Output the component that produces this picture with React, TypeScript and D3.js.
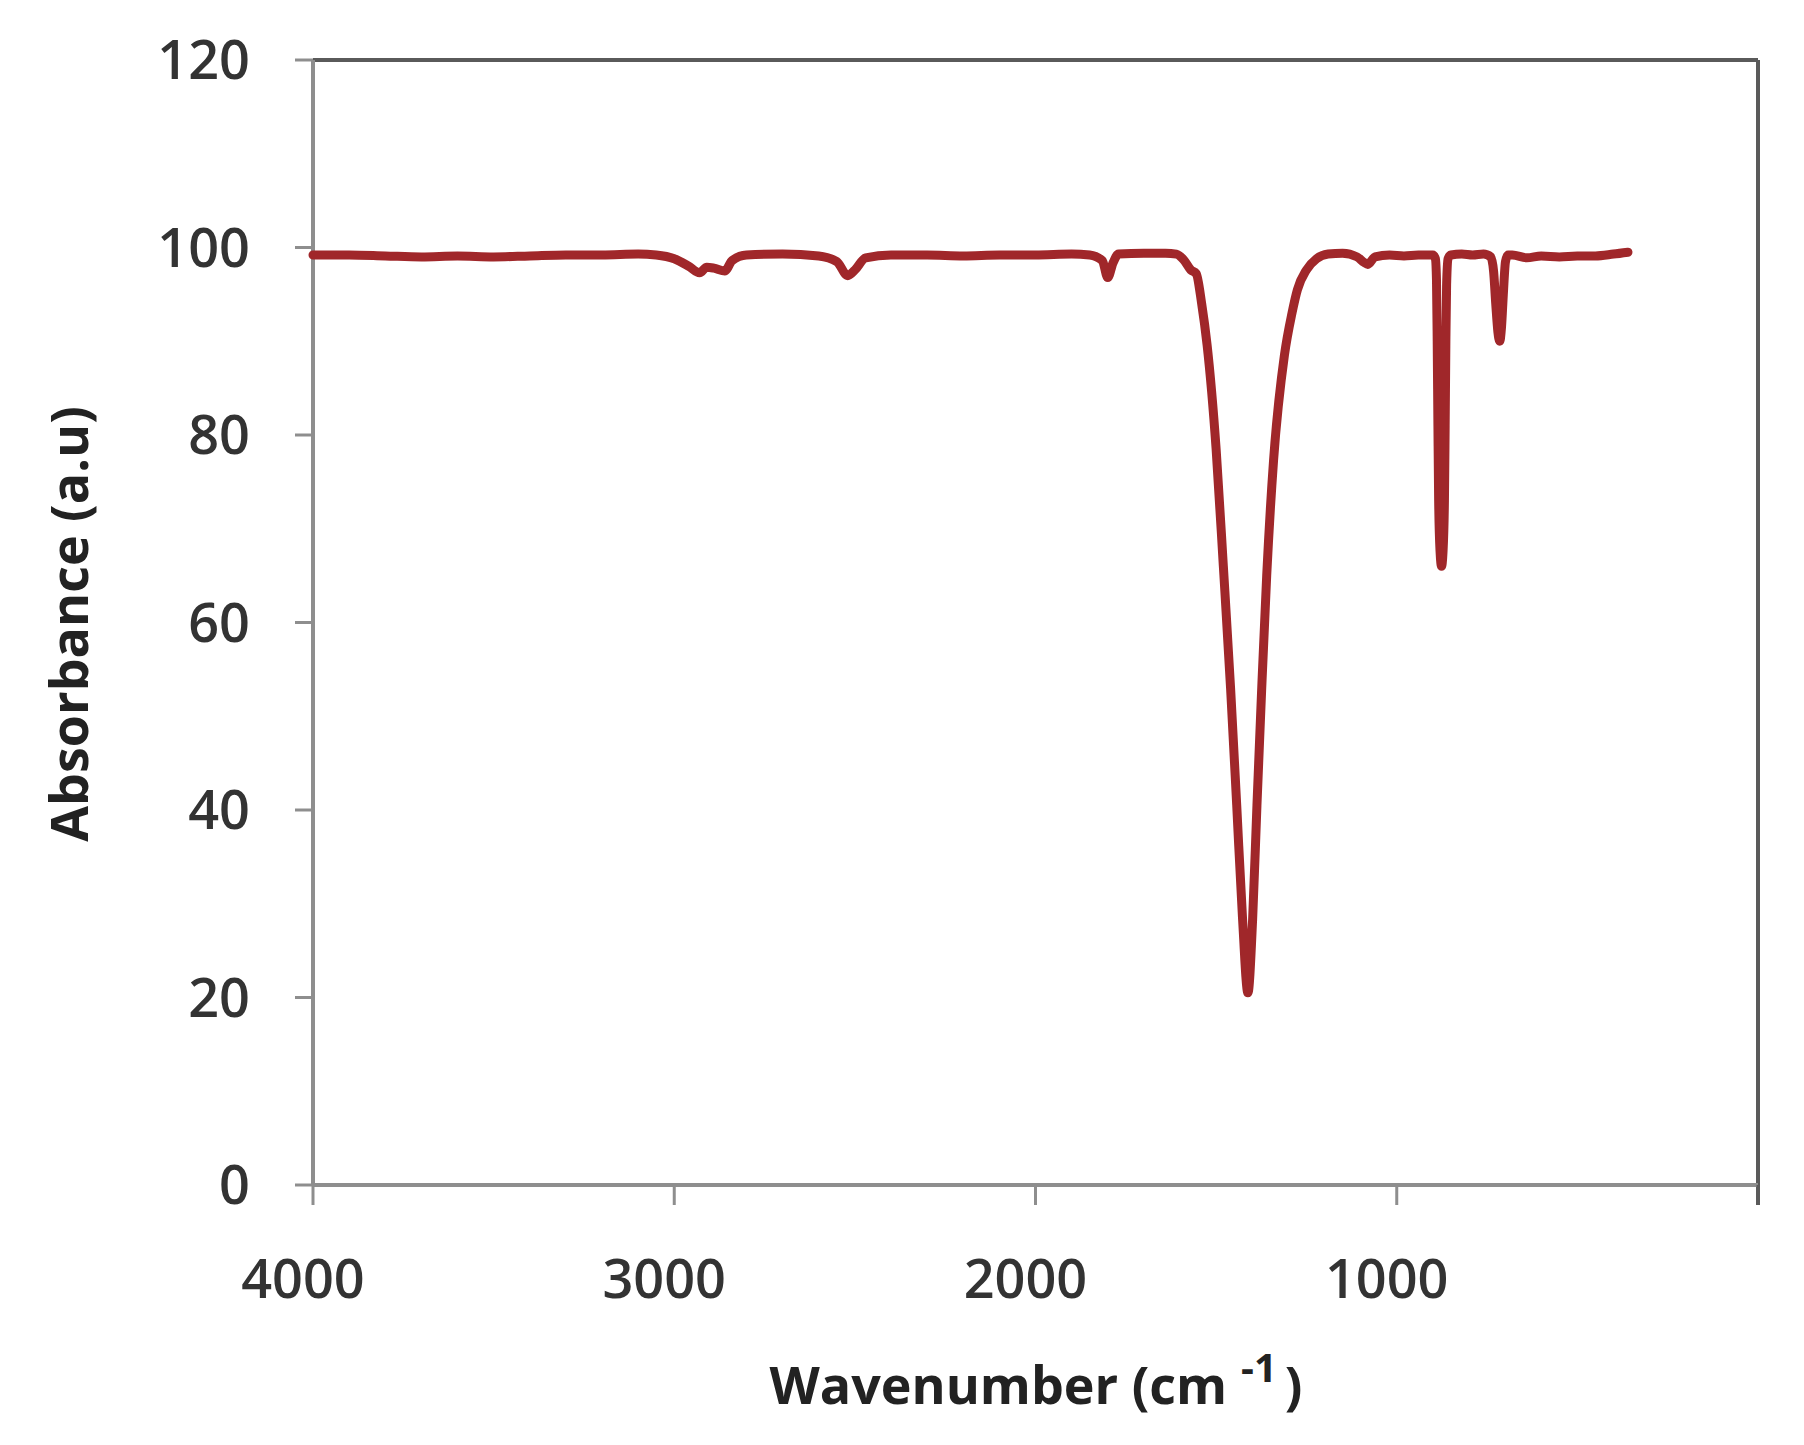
import React from "react";
import * as d3 from "d3";

const wavenumbers = [
  4000, 3900, 3800, 3700, 3600, 3500, 3400, 3300, 3200, 3100, 3050, 3000, 2960, 2930, 2910, 2890, 2860, 2840, 2800,
  2700, 2600, 2550, 2520, 2500, 2470, 2400, 2300, 2200, 2100, 2000, 1900, 1850, 1815, 1800, 1785, 1770, 1700, 1640,
  1610, 1590, 1570, 1555, 1540, 1525, 1500, 1480, 1460, 1443, 1427, 1412, 1399, 1387, 1374, 1360, 1341, 1311, 1290,
  1275, 1250, 1222, 1190, 1150, 1110, 1090, 1080, 1060, 1020, 980, 940, 900, 893, 890, 888, 886, 884, 880, 876, 872,
  868, 866, 864, 862, 858, 850, 820, 790, 760, 740, 732, 726, 720, 715, 710, 705, 699, 692, 680, 640, 600, 550, 500,
  450, 400, 360,
];

const absorbance = [
  99.2, 99.2, 99.1, 99.0, 99.1, 99.0, 99.1, 99.2, 99.2, 99.3, 99.2, 98.8, 98.0, 97.3, 97.9, 97.8, 97.5, 98.6, 99.2,
  99.3, 99.1, 98.5, 97.0, 97.6, 98.9, 99.2, 99.2, 99.1, 99.2, 99.2, 99.3, 99.2, 98.6, 96.8, 98.4, 99.3, 99.4, 99.4,
  99.3, 98.7, 97.6, 97.2, 94.0, 89.6, 78.5, 66.0, 53.0, 40.5, 28.5, 20.5, 28.3, 40.5, 52.8, 65.0, 77.3, 88.5, 93.0,
  95.5, 97.6, 98.8, 99.3, 99.4, 99.0, 98.4, 98.2, 99.0, 99.2, 99.1, 99.2, 99.2, 98.8, 96.5, 90.0, 81.0, 73.0, 67.5, 66.0, 67.5,
  73.0, 81.0, 90.0, 96.0, 98.8, 99.2, 99.3, 99.2, 99.3, 99.0, 97.5, 94.0, 91.0, 90.0, 91.5, 95.0, 98.5, 99.2, 99.2, 98.9,
  99.1, 99.0, 99.1, 99.1, 99.3, 99.5,
];

const xTicks = [4000, 3000, 2000, 1000, 0];
const xTickLabels = ["4000", "3000", "2000", "1000", ""];
const yTicks = [0, 20, 40, 60, 80, 100, 120];

const xTitle = "Wavenumber (cm";
const xTitleSup = "-1";
const yTitle = "Absorbance (a.u)";

export default function App() {
  const W = 1804;
  const H = 1445;
  const left = 313;
  const right = 1758;
  const top = 60;
  const bottom = 1185;

  const x = d3.scaleLinear().domain([4000, 0]).range([left, right]);
  const y = d3.scaleLinear().domain([0, 120]).range([bottom, top]);

  const data = wavenumbers.map((w, i) => ({ w, a: absorbance[i] }));
  const line = d3
    .line<{ w: number; a: number }>()
    .x((d) => x(d.w))
    .y((d) => y(d.a))
    .curve(d3.curveMonotoneX);

  const font = "'Open Sans', 'DejaVu Sans', sans-serif";
  const axisColor = "#8e8e8e";
  const borderColor = "#5a5a5a";

  return (
    <svg
      width={W}
      height={H}
      style={{ position: "absolute", left: 0, top: 0, display: "block", background: "#fff" }}
    >
      <rect x={0} y={0} width={W} height={H} fill="#fff" />
      <line x1={left} y1={top} x2={right} y2={top} stroke={borderColor} strokeWidth={4} />
      <line x1={right} y1={top} x2={right} y2={bottom + 20} stroke={borderColor} strokeWidth={4} />
      <line x1={left} y1={top} x2={left} y2={bottom} stroke={axisColor} strokeWidth={4} />
      <line x1={left} y1={bottom} x2={right} y2={bottom} stroke={axisColor} strokeWidth={4} />
      {yTicks.map((t) => (
        <g key={"y" + t}>
          <line x1={left - 18} x2={left} y1={y(t)} y2={y(t)} stroke={axisColor} strokeWidth={3} />
          <text
            x={250}
            y={y(t)}
            dy="0.36em"
            textAnchor="end"
            fontFamily={font}
            fontWeight={600}
            fontSize={54}
            fill="#333"
          >
            {t}
          </text>
        </g>
      ))}
      {xTicks.map((t, i) => (
        <g key={"x" + t}>
          <line
            x1={x(t)}
            x2={x(t)}
            y1={bottom}
            y2={bottom + 20}
            stroke={i === xTicks.length - 1 ? borderColor : axisColor}
            strokeWidth={3}
          />
          <text
            x={x(t) - 10}
            y={1298}
            textAnchor="middle"
            fontFamily={font}
            fontWeight={600}
            fontSize={54}
            fill="#333"
          >
            {xTickLabels[i]}
          </text>
        </g>
      ))}
      <path
        d={line(data) || ""}
        fill="none"
        stroke="#a0272a"
        strokeWidth={9}
        strokeLinejoin="round"
        strokeLinecap="round"
      />
      <text x={1036} y={1404} textAnchor="middle" fontFamily={font} fontWeight={700} fontSize={52} fill="#222">
        {xTitle}
        <tspan dx={14} dy={-22} fontSize={40}>
          {xTitleSup}
        </tspan>
        <tspan dx={8} dy={22} fontSize={52}>
          )
        </tspan>
      </text>
      <text
        transform={`translate(88, 624) rotate(-90)`}
        textAnchor="middle"
        fontFamily={font}
        fontWeight={700}
        fontSize={52}
        fill="#222"
      >
        {yTitle}
      </text>
    </svg>
  );
}
